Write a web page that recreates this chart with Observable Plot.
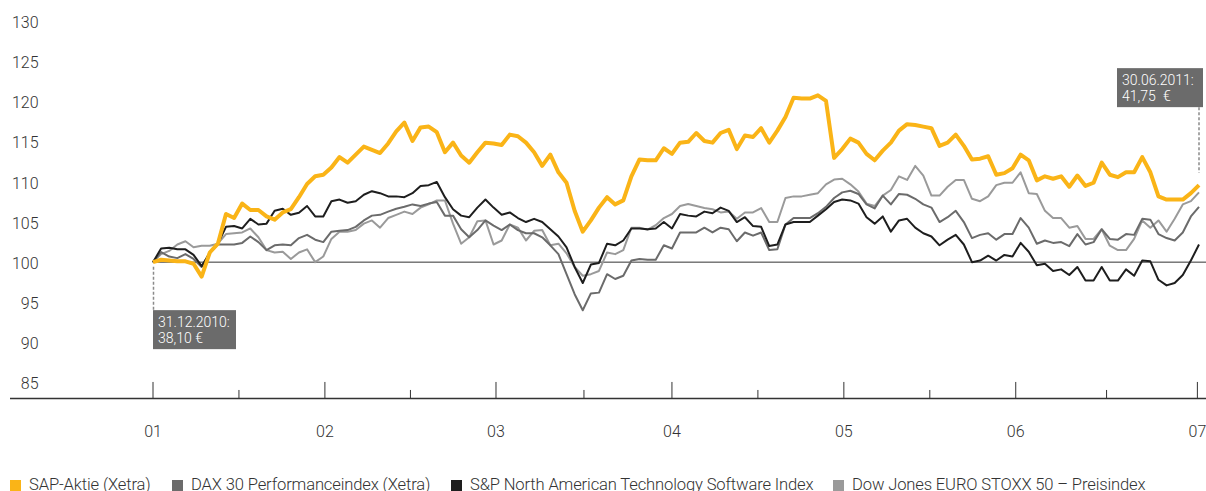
<!DOCTYPE html>
<html>
<head>
<meta charset="utf-8">
<script src="https://cdn.jsdelivr.net/npm/d3@7"></script>
<script src="https://cdn.jsdelivr.net/npm/@observablehq/plot@0.6"></script>
<style>
  html, body { margin: 0; padding: 0; background: #fff; }
  body { width: 1206px; height: 491px; overflow: hidden; font-family: Roboto, "Liberation Sans", sans-serif; }
  #chart svg { display: block; }
  #legend { display: flex; margin: 5px 0 0 10px; font-family: Roboto, "Liberation Sans", sans-serif; font-weight: 300; font-size: 16.6px; letter-spacing: -0.15px; line-height: 20px; color: #333; white-space: nowrap; }
  #legend .item { display: flex; align-items: center; flex: none; }
  #legend .sw { width: 11px; height: 11px; margin-right: 8px; display: inline-block; }
</style>
</head>
<body>
<div id="chart"></div>
<div id="legend"></div>
<script>
// ---- data (index = trading day from 31.12.2010 to 30.06.2011, base 100) ----
const sap = [100,100.3,100.2,100.1,100.1,99.8,98.2,101.2,102.3,106.0,
105.5,107.3,106.5,106.5,105.7,105.3,106.2,106.6,108.1,109.75,
110.7,110.9,111.8,113.1,112.4,113.4,114.4,114.0,113.6,114.8,
116.3,117.4,115.1,116.8,116.9,116.2,113.7,114.9,113.3,112.4,
113.7,114.9,114.8,114.6,115.9,115.7,114.9,113.7,112.0,113.4,
111.2,109.9,106.4,103.8,105.2,106.8,108.1,107.2,107.7,110.7,
112.8,112.7,112.7,114.2,113.5,114.9,115.0,116.1,115.1,114.9,
116.1,116.5,114.1,115.8,115.6,116.7,114.9,116.4,118.1,120.5,
120.4,120.4,120.8,120.1,113.0,114.1,115.4,114.9,113.5,112.7,
113.9,114.9,116.4,117.2,117.1,116.9,116.7,114.5,114.9,115.9,
114.5,112.8,112.9,113.2,110.9,111.1,111.7,113.4,112.7,110.2,
110.7,110.4,110.7,109.4,110.8,109.5,109.9,112.4,110.9,110.6,
111.2,111.2,113.1,111.2,108.2,107.8,107.8,107.8,108.6,109.6];

const dax = [100,101.25,100.7,100.5,101.0,100.4,99.4,101.25,102.2,102.2,
102.2,102.4,103.2,102.5,101.5,102.1,102.2,102.1,103.0,103.4,
102.8,102.5,103.8,103.9,104.0,104.4,105.2,105.8,105.9,106.3,
106.65,106.9,107.2,107.0,107.3,107.5,105.8,105.8,104.1,103.1,
104.0,105.2,104.55,104.0,104.7,104.0,103.6,103.6,103.1,102.1,
101.0,98.5,96.0,94.0,96.1,96.2,98.5,97.9,98.3,100.2,
100.4,100.3,100.3,102.1,101.7,103.7,103.7,103.7,104.3,103.7,
104.3,104.1,102.6,103.7,103.3,103.7,101.5,101.6,104.7,105.5,
105.5,105.5,106.1,106.9,108.0,108.7,108.9,108.5,107.2,106.7,
108.3,107.2,108.5,108.4,107.9,107.2,106.8,105.0,105.6,106.4,
105.0,103.0,103.4,103.6,102.8,103.5,103.5,105.5,104.3,102.3,
102.7,102.4,102.5,102.0,103.5,102.2,102.5,104.1,102.9,102.8,
103.5,103.4,105.4,105.3,103.5,103.0,102.7,103.7,105.7,106.9];

const spSoftware = [100,101.7,101.8,101.6,101.6,100.9,99.5,101.1,102.3,104.4,
104.5,104.2,105.4,104.7,104.8,106.4,106.65,105.9,106.15,107.0,
105.7,105.7,107.6,107.8,107.4,107.6,108.4,108.85,108.6,108.2,
108.2,108.1,108.6,109.5,109.6,110.0,108.1,106.6,105.8,105.6,
106.8,107.8,106.8,105.9,106.2,105.5,105.0,105.4,105.0,104.1,
103.2,101.85,99.4,97.4,99.7,99.9,102.3,102.1,102.7,104.2,
104.2,104.1,104.2,105.0,104.2,106.0,105.8,105.7,106.3,106.1,
106.8,106.4,105.0,105.6,104.5,104.4,102.0,102.2,104.7,105.0,
105.0,105.0,105.8,106.6,107.5,107.8,107.7,107.3,105.6,104.8,
105.7,103.8,105.2,105.4,104.3,103.6,103.2,102.1,102.8,103.4,
102.2,100.0,100.2,100.8,100.2,100.9,100.7,102.4,101.3,99.6,
99.8,98.9,99.1,98.4,99.4,97.7,97.7,99.4,97.7,97.7,
99.1,98.3,100.2,100.1,97.8,97.1,97.4,98.4,100.2,102.2];

const stoxx = [100,101.0,101.4,102.2,102.6,101.85,102.05,102.05,102.3,103.5,
103.6,103.7,104.2,103.1,101.5,101.2,101.3,100.4,101.2,101.6,
100.0,100.7,102.9,103.8,103.8,104.0,104.8,105.2,104.3,105.5,
105.9,106.3,106.0,106.8,107.2,107.7,107.7,104.8,102.3,103.1,
105.1,105.2,102.2,102.7,104.7,104.3,102.7,103.9,104.0,102.1,
102.3,101.1,99.4,98.3,98.5,98.9,101.2,101.0,101.5,104.3,
104.3,104.05,104.6,105.5,106.0,107.0,107.25,107.0,106.75,106.6,
106.2,106.3,105.4,106.2,106.2,106.75,105.0,105.0,108.0,108.2,
108.2,108.4,108.6,109.7,110.3,110.4,109.7,108.8,107.3,107.0,
108.3,109.0,110.7,110.25,112.0,110.8,108.3,108.3,109.4,110.25,
110.25,107.9,107.6,108.2,109.6,109.9,109.9,111.2,108.6,108.5,
106.4,105.5,105.5,104.3,104.5,102.9,102.9,104.1,102.05,101.5,
101.5,102.9,105.2,104.3,105.2,103.8,105.4,107.2,107.6,108.7];

const seriesNames = ["SAP-Aktie (Xetra)", "DAX 30 Performanceindex (Xetra)", "S&P North American Technology Software Index", "Dow Jones EURO STOXX 50 – Preisindex"];
const seriesColors = ["#fab417", "#6b6b6b", "#1e1e1e", "#9a9a9a"];
const seriesWidths = [4, 2, 2, 2];
const seriesValues = [sap, dax, spSoftware, stoxx];
const legendItemWidths = [162, 279, 382, null];

const monthLabels = ["01", "02", "03", "04", "05", "06", "07"];
const monthTickIndex = [0, 21.2, 42.3, 64.0, 85.2, 106.4, 128.8];
const yTicks = [85, 90, 95, 100, 105, 110, 115, 120, 125, 130];

const annStart = { i: 0, lines: ["31.12.2010:", "38,10 €"] };
const annEnd = { i: sap.length - 1, lines: ["30.06.2011:", "41,75\u2002€"] };

// ---- layout ----
const W = 1206, H = 470;
const mL = 152.5, mR = 7.5, mT = 13, mB = 72;
const nLast = sap.length - 1;
const unitsPerPx = nLast / (W - mL - mR);
const pxToX = px => (px - mL) * unitsPerPx;

const rows = seriesValues.map((vals, k) => vals.map((v, i) => ({ i, v, s: seriesNames[k] })));
const minorTicks = d3.pairs(monthTickIndex).map(([a, b]) => (a + b) / 2);
const FONT = "Roboto, 'Liberation Sans', sans-serif";

const drawOrder = [3, 1, 2, 0];

const chart = Plot.plot({
  width: W, height: H,
  marginLeft: mL, marginRight: mR, marginTop: mT, marginBottom: mB,
  x: { domain: [0, nLast], axis: null },
  y: { domain: [83, 131], axis: null },
  style: { fontFamily: FONT, background: "#fff", color: "#333", overflow: "visible" },
  marks: [
    Plot.axisY(yTicks, { anchor: "left", label: null, tickSize: 0, tickPadding: mL - 38, fontSize: 16, fontWeight: 300, dy: 1.5, fill: "#333" }),
    Plot.ruleY([100], { x1: 0, x2: pxToX(W), stroke: "#333", strokeWidth: 1 }),
    ...drawOrder.map(k => Plot.line(rows[k], { x: "i", y: "v", stroke: seriesColors[k], strokeWidth: seriesWidths[k], strokeLinejoin: "round", strokeLinecap: "butt" })),
    Plot.ruleY([83], { x1: pxToX(10), x2: pxToX(W), stroke: "#333", strokeWidth: 1.3 }),
    Plot.ruleX(monthTickIndex, { y1: 83, y2: 85, stroke: "#333", strokeWidth: 1 }),
    Plot.ruleX(minorTicks, { y1: 83, y2: 84, stroke: "#333", strokeWidth: 1 }),
    Plot.text(monthLabels, { x: (d, i) => monthTickIndex[i], y: 83, dy: 33, text: d => d, fontSize: 16, fontWeight: 300, fill: "#333", textAnchor: "middle", lineAnchor: "middle" })
  ]
});

document.getElementById("chart").appendChild(chart);

// ---- annotations placed through the plot's own scales ----
const sx = chart.scale("x"), sy = chart.scale("y");
const svg = d3.select(chart);
const g = svg.append("g").attr("font-family", FONT).attr("text-anchor", "start");

function box(left, top, w, h, lines) {
  g.append("rect").attr("x", left).attr("y", top).attr("width", w).attr("height", h).attr("fill", "#6b6b6b");
  lines.forEach((t, j) => {
    g.append("text").attr("x", left + 5).attr("y", top + 17 + j * 16).attr("text-anchor", "start")
      .attr("fill", "#fff").attr("font-size", 14).attr("font-weight", 300).text(t);
  });
}
function dashed(x, y1, y2) {
  g.append("line").attr("x1", x).attr("x2", x).attr("y1", y1).attr("y2", y2)
    .attr("stroke", "#8a8a8a").attr("stroke-width", 1.5).attr("stroke-dasharray", "3,2");
}
{
  const px = sx.apply(annStart.i), py = sy.apply(seriesValues[0][annStart.i]);
  dashed(px + 1, py + 5, py + 48.5);
  box(px + 0.5, py + 48.5, 83, 39, annStart.lines);
}
{
  const px = sx.apply(annEnd.i), py = sy.apply(seriesValues[0][annEnd.i]);
  dashed(px + 0.5, py - 77.5, py - 12);
  box(px - 81.5, py - 116.5, 86, 39, annEnd.lines);
}

// ---- legend ----
const legend = d3.select("#legend");
seriesNames.forEach((name, k) => {
  const it = legend.append("div").attr("class", "item");
  if (legendItemWidths[k]) it.style("width", legendItemWidths[k] + "px");
  it.append("span").attr("class", "sw").style("background", seriesColors[k]);
  it.append("span").text(name);
});
</script>
</body>
</html>
